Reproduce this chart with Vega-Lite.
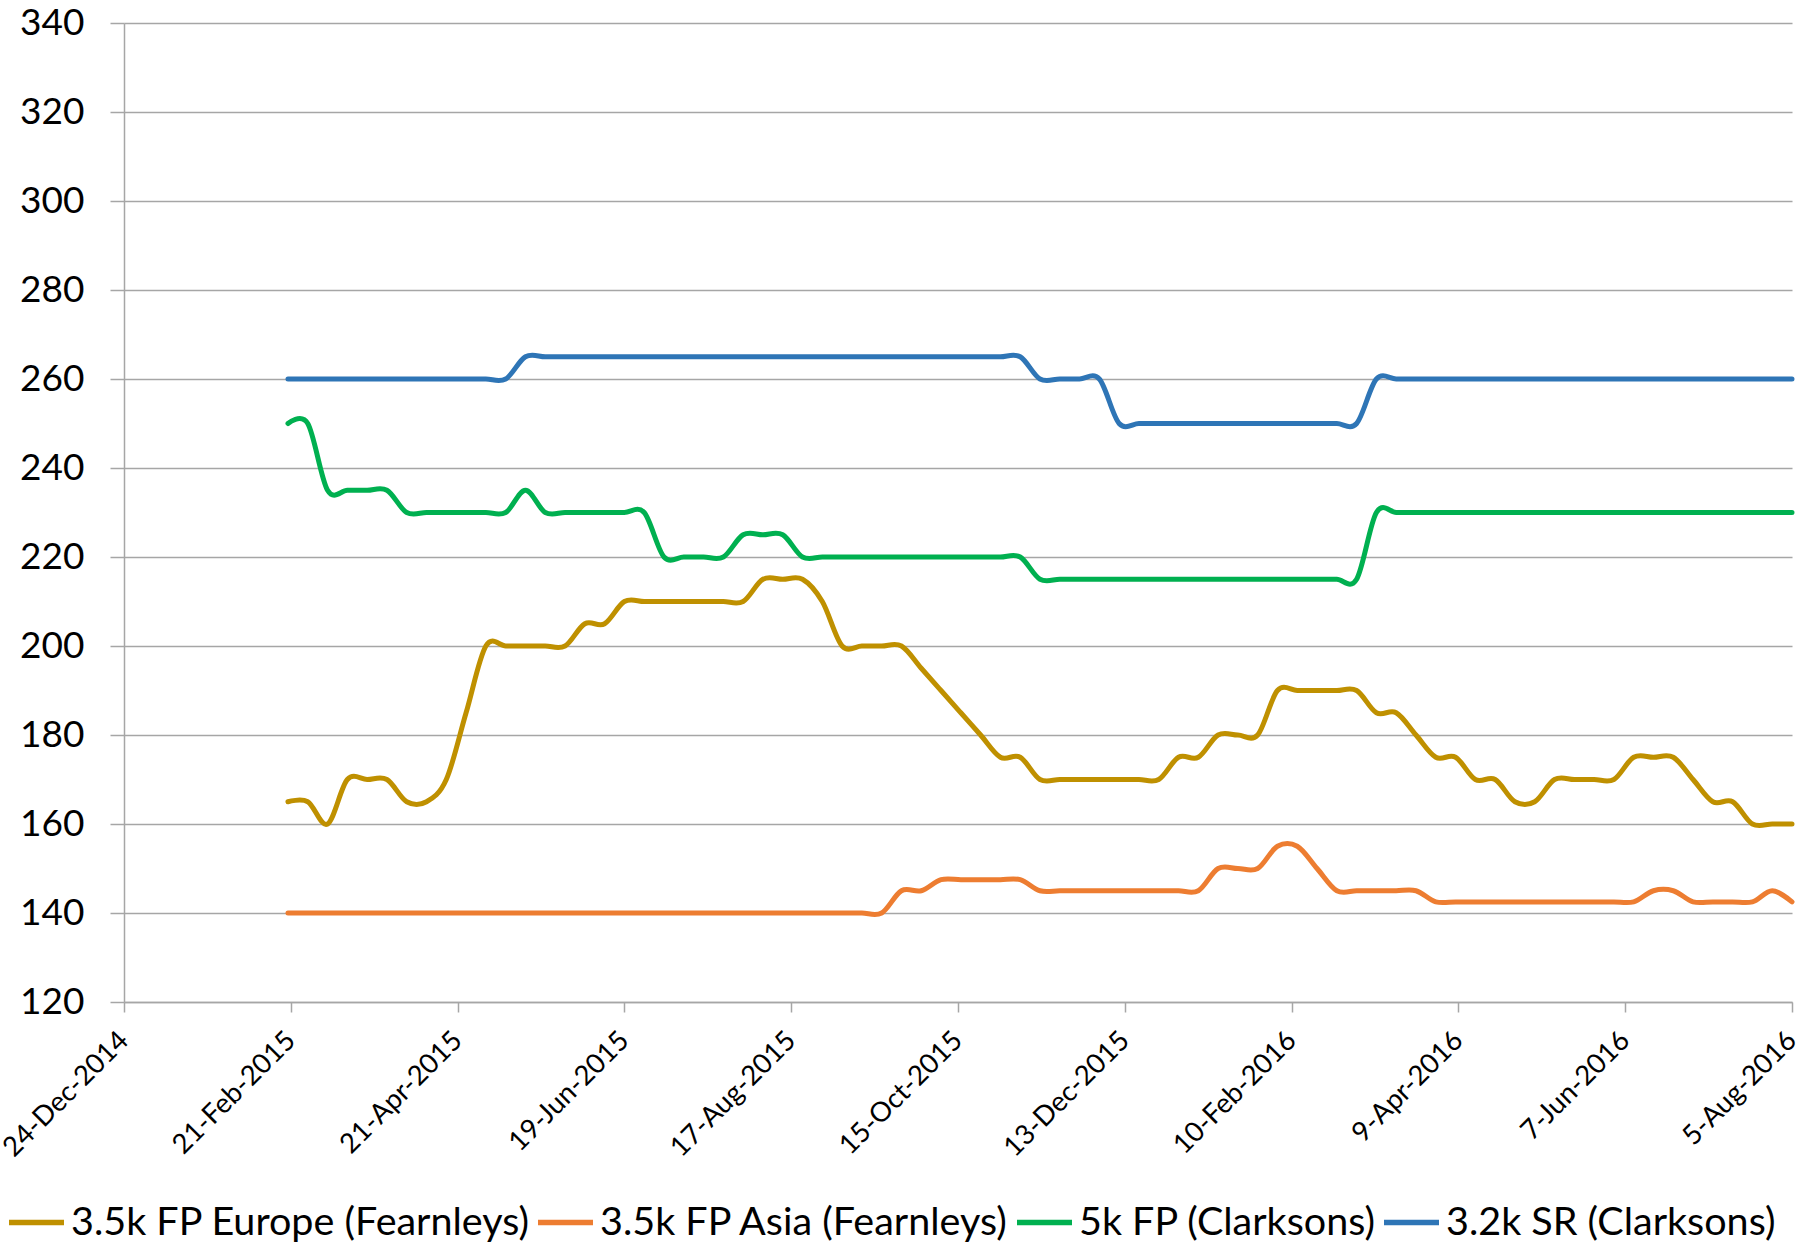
{
  "$schema": "https://vega.github.io/schema/vega-lite/v6.json",
  "width": 1668,
  "height": 979,
  "autosize": {"type": "none"},
  "padding": {"left": 124, "top": 23, "right": 24, "bottom": 241},
  "background": "white",
  "config": {
    "view": {"stroke": null},
    "font": "Lato",
    "axis": {"labelFont": "Lato", "labelColor": "#000000", "domainColor": "#A6A6A6", "tickColor": "#A6A6A6", "gridColor": "#A6A6A6", "domainWidth": 1.5, "tickWidth": 1.5, "gridWidth": 1.3, "title": null}
  },
  "data": {
    "values": [
      {"d": "2015/02/20", "eu": 165, "as": 140, "fp": 250, "sr": 260},
      {"d": "2015/02/27", "eu": 165, "as": 140, "fp": 250, "sr": 260},
      {"d": "2015/03/06", "eu": 160, "as": 140, "fp": 235, "sr": 260},
      {"d": "2015/03/13", "eu": 170, "as": 140, "fp": 235, "sr": 260},
      {"d": "2015/03/20", "eu": 170, "as": 140, "fp": 235, "sr": 260},
      {"d": "2015/03/27", "eu": 170, "as": 140, "fp": 235, "sr": 260},
      {"d": "2015/04/03", "eu": 165, "as": 140, "fp": 230, "sr": 260},
      {"d": "2015/04/10", "eu": 165, "as": 140, "fp": 230, "sr": 260},
      {"d": "2015/04/17", "eu": 170, "as": 140, "fp": 230, "sr": 260},
      {"d": "2015/04/24", "eu": 185, "as": 140, "fp": 230, "sr": 260},
      {"d": "2015/05/01", "eu": 200, "as": 140, "fp": 230, "sr": 260},
      {"d": "2015/05/08", "eu": 200, "as": 140, "fp": 230, "sr": 260},
      {"d": "2015/05/15", "eu": 200, "as": 140, "fp": 235, "sr": 265},
      {"d": "2015/05/22", "eu": 200, "as": 140, "fp": 230, "sr": 265},
      {"d": "2015/05/29", "eu": 200, "as": 140, "fp": 230, "sr": 265},
      {"d": "2015/06/05", "eu": 205, "as": 140, "fp": 230, "sr": 265},
      {"d": "2015/06/12", "eu": 205, "as": 140, "fp": 230, "sr": 265},
      {"d": "2015/06/19", "eu": 210, "as": 140, "fp": 230, "sr": 265},
      {"d": "2015/06/26", "eu": 210, "as": 140, "fp": 230, "sr": 265},
      {"d": "2015/07/03", "eu": 210, "as": 140, "fp": 220, "sr": 265},
      {"d": "2015/07/10", "eu": 210, "as": 140, "fp": 220, "sr": 265},
      {"d": "2015/07/17", "eu": 210, "as": 140, "fp": 220, "sr": 265},
      {"d": "2015/07/24", "eu": 210, "as": 140, "fp": 220, "sr": 265},
      {"d": "2015/07/31", "eu": 210, "as": 140, "fp": 225, "sr": 265},
      {"d": "2015/08/07", "eu": 215, "as": 140, "fp": 225, "sr": 265},
      {"d": "2015/08/14", "eu": 215, "as": 140, "fp": 225, "sr": 265},
      {"d": "2015/08/21", "eu": 215, "as": 140, "fp": 220, "sr": 265},
      {"d": "2015/08/28", "eu": 210, "as": 140, "fp": 220, "sr": 265},
      {"d": "2015/09/04", "eu": 200, "as": 140, "fp": 220, "sr": 265},
      {"d": "2015/09/11", "eu": 200, "as": 140, "fp": 220, "sr": 265},
      {"d": "2015/09/18", "eu": 200, "as": 140, "fp": 220, "sr": 265},
      {"d": "2015/09/25", "eu": 200, "as": 145, "fp": 220, "sr": 265},
      {"d": "2015/10/02", "eu": 195, "as": 145, "fp": 220, "sr": 265},
      {"d": "2015/10/09", "eu": 190, "as": 147.5, "fp": 220, "sr": 265},
      {"d": "2015/10/16", "eu": 185, "as": 147.5, "fp": 220, "sr": 265},
      {"d": "2015/10/23", "eu": 180, "as": 147.5, "fp": 220, "sr": 265},
      {"d": "2015/10/30", "eu": 175, "as": 147.5, "fp": 220, "sr": 265},
      {"d": "2015/11/06", "eu": 175, "as": 147.5, "fp": 220, "sr": 265},
      {"d": "2015/11/13", "eu": 170, "as": 145, "fp": 215, "sr": 260},
      {"d": "2015/11/20", "eu": 170, "as": 145, "fp": 215, "sr": 260},
      {"d": "2015/11/27", "eu": 170, "as": 145, "fp": 215, "sr": 260},
      {"d": "2015/12/04", "eu": 170, "as": 145, "fp": 215, "sr": 260},
      {"d": "2015/12/11", "eu": 170, "as": 145, "fp": 215, "sr": 250},
      {"d": "2015/12/18", "eu": 170, "as": 145, "fp": 215, "sr": 250},
      {"d": "2015/12/25", "eu": 170, "as": 145, "fp": 215, "sr": 250},
      {"d": "2016/01/01", "eu": 175, "as": 145, "fp": 215, "sr": 250},
      {"d": "2016/01/08", "eu": 175, "as": 145, "fp": 215, "sr": 250},
      {"d": "2016/01/15", "eu": 180, "as": 150, "fp": 215, "sr": 250},
      {"d": "2016/01/22", "eu": 180, "as": 150, "fp": 215, "sr": 250},
      {"d": "2016/01/29", "eu": 180, "as": 150, "fp": 215, "sr": 250},
      {"d": "2016/02/05", "eu": 190, "as": 155, "fp": 215, "sr": 250},
      {"d": "2016/02/12", "eu": 190, "as": 155, "fp": 215, "sr": 250},
      {"d": "2016/02/19", "eu": 190, "as": 150, "fp": 215, "sr": 250},
      {"d": "2016/02/26", "eu": 190, "as": 145, "fp": 215, "sr": 250},
      {"d": "2016/03/04", "eu": 190, "as": 145, "fp": 215, "sr": 250},
      {"d": "2016/03/11", "eu": 185, "as": 145, "fp": 230, "sr": 260},
      {"d": "2016/03/18", "eu": 185, "as": 145, "fp": 230, "sr": 260},
      {"d": "2016/03/25", "eu": 180, "as": 145, "fp": 230, "sr": 260},
      {"d": "2016/04/01", "eu": 175, "as": 142.5, "fp": 230, "sr": 260},
      {"d": "2016/04/08", "eu": 175, "as": 142.5, "fp": 230, "sr": 260},
      {"d": "2016/04/15", "eu": 170, "as": 142.5, "fp": 230, "sr": 260},
      {"d": "2016/04/22", "eu": 170, "as": 142.5, "fp": 230, "sr": 260},
      {"d": "2016/04/29", "eu": 165, "as": 142.5, "fp": 230, "sr": 260},
      {"d": "2016/05/06", "eu": 165, "as": 142.5, "fp": 230, "sr": 260},
      {"d": "2016/05/13", "eu": 170, "as": 142.5, "fp": 230, "sr": 260},
      {"d": "2016/05/20", "eu": 170, "as": 142.5, "fp": 230, "sr": 260},
      {"d": "2016/05/27", "eu": 170, "as": 142.5, "fp": 230, "sr": 260},
      {"d": "2016/06/03", "eu": 170, "as": 142.5, "fp": 230, "sr": 260},
      {"d": "2016/06/10", "eu": 175, "as": 142.5, "fp": 230, "sr": 260},
      {"d": "2016/06/17", "eu": 175, "as": 145, "fp": 230, "sr": 260},
      {"d": "2016/06/24", "eu": 175, "as": 145, "fp": 230, "sr": 260},
      {"d": "2016/07/01", "eu": 170, "as": 142.5, "fp": 230, "sr": 260},
      {"d": "2016/07/08", "eu": 165, "as": 142.5, "fp": 230, "sr": 260},
      {"d": "2016/07/15", "eu": 165, "as": 142.5, "fp": 230, "sr": 260},
      {"d": "2016/07/22", "eu": 160, "as": 142.5, "fp": 230, "sr": 260},
      {"d": "2016/07/29", "eu": 160, "as": 145, "fp": 230, "sr": 260},
      {"d": "2016/08/05", "eu": 160, "as": 142.5, "fp": 230, "sr": 260}
    ]
  },
  "transform": [
    {"fold": ["eu", "as", "fp", "sr"], "as": ["s", "v"]}
  ],
  "mark": {"type": "line", "interpolate": "cardinal", "strokeWidth": 5, "strokeCap": "round", "strokeJoin": "round"},
  "encoding": {
    "x": {
      "field": "d", "type": "temporal",
      "scale": {"domain": [{"year": 2014, "month": 12, "date": 24}, {"year": 2016, "month": 8, "date": 5}]},
      "axis": {
        "values": [
          {"year": 2014, "month": 12, "date": 24},
          {"year": 2015, "month": 2, "date": 21},
          {"year": 2015, "month": 4, "date": 21},
          {"year": 2015, "month": 6, "date": 19},
          {"year": 2015, "month": 8, "date": 17},
          {"year": 2015, "month": 10, "date": 15},
          {"year": 2015, "month": 12, "date": 13},
          {"year": 2016, "month": 2, "date": 10},
          {"year": 2016, "month": 4, "date": 9},
          {"year": 2016, "month": 6, "date": 7},
          {"year": 2016, "month": 8, "date": 5}
        ],
        "format": "%-d-%b-%Y",
        "labelAngle": -45,
        "labelAlign": "right",
        "labelBaseline": "middle",
        "labelFontSize": 27.5,
        "labelPadding": 24,
        "tickSize": 10,
        "grid": false,
        "labelOverlap": false,
        "labelBound": false,
        "labelFlush": false
      }
    },
    "y": {
      "field": "v", "type": "quantitative",
      "scale": {"domain": [120, 340], "nice": false, "zero": false},
      "axis": {
        "values": [120, 140, 160, 180, 200, 220, 240, 260, 280, 300, 320, 340],
        "labelFontSize": 37,
        "tickSize": 14,
        "labelPadding": 26,
        "grid": true
      }
    },
    "color": {
      "field": "s", "type": "nominal",
      "scale": {"domain": ["eu", "as", "fp", "sr"], "range": ["#BF9000", "#ED7D31", "#00B050", "#2E75B6"]},
      "legend": {
        "title": null,
        "orient": "none",
        "legendX": -118,
        "legendY": 1169,
        "direction": "horizontal",
        "symbolType": "stroke",
        "symbolSize": 3025,
        "symbolStrokeWidth": 5.5,
        "labelFont": "Lato",
        "labelFontSize": 39.5,
        "labelColor": "#000000",
        "labelOffset": 4,
        "columnPadding": -4,
        "labelLimit": 0,
        "labelExpr": "datum.value == 'eu' ? '3.5k FP Europe (Fearnleys)' : datum.value == 'as' ? '3.5k FP Asia (Fearnleys)' : datum.value == 'fp' ? '5k FP (Clarksons)' : '3.2k SR (Clarksons)'"
      }
    }
  }
}
